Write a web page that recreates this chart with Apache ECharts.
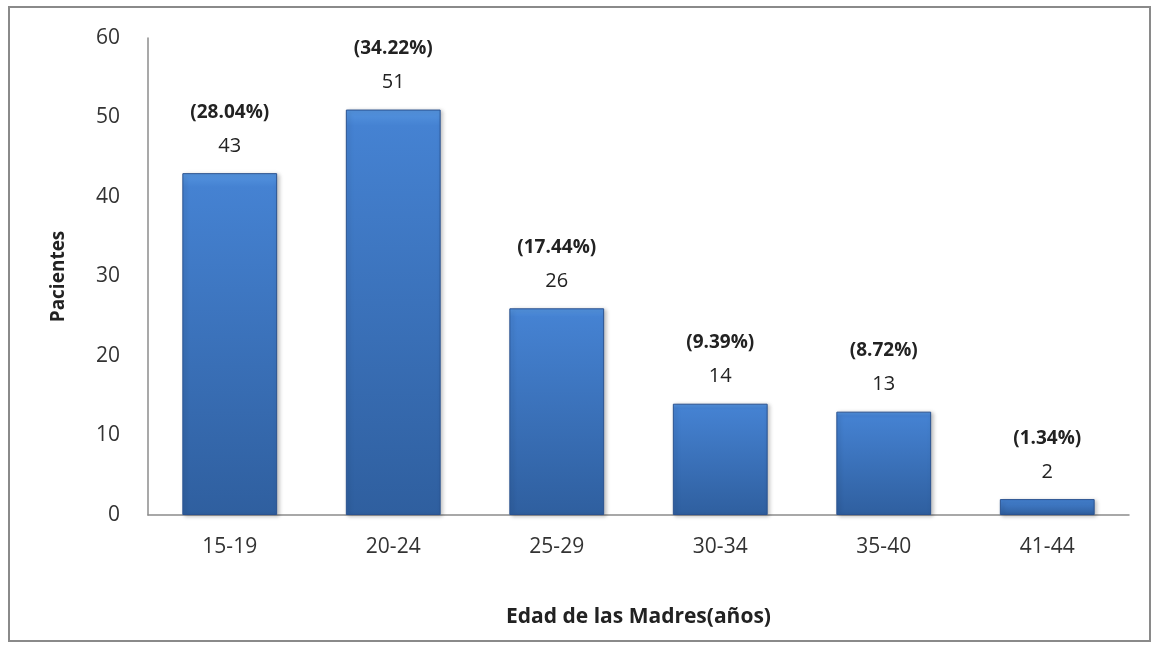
<!DOCTYPE html>
<html>
<head>
<meta charset="utf-8">
<script src="https://cdn.jsdelivr.net/npm/echarts@6/dist/echarts.min.js"></script>
<style>
  body { margin: 0; background: #fff; }
  #frame { position: absolute; left: 8px; top: 6px; width: 1139px; height: 632px; border: 2px solid #8a8a8a; }
  #chart { position: absolute; left: 0; top: 0; width: 1157px; height: 648px; }
</style>
</head>
<body>
<div id="frame"></div>
<div id="chart"></div>
<script>
// data
var categories = ['15-19', '20-24', '25-29', '30-34', '35-40', '41-44'];
var patients = [43, 51, 26, 14, 13, 2];
var percents = ['28.04%', '34.22%', '17.44%', '9.39%', '8.72%', '1.34%'];

var myChart = echarts.init(document.getElementById('chart'));
var font = '"Open Sans", sans-serif';

var option = {
  backgroundColor: 'transparent',
  grid: { left: 148, right: 28, top: 38, bottom: 133 },
  xAxis: {
    type: 'category',
    data: categories,
    name: 'Edad de las Madres(años)',
    nameLocation: 'middle',
    nameGap: 92,
    nameTextStyle: { color: '#222', fontSize: 21, fontWeight: 'bold', fontFamily: font },
    axisLine: { lineStyle: { color: '#8c8c8c', width: 1.5 } },
    axisTick: { show: false },
    axisLabel: { color: '#333', fontSize: 21, fontFamily: font, margin: 22 }
  },
  yAxis: {
    type: 'value',
    min: 0,
    max: 60,
    interval: 10,
    name: 'Pacientes',
    nameLocation: 'middle',
    nameGap: 80,
    nameRotate: 90,
    nameTextStyle: { color: '#222', fontSize: 19, fontWeight: 'bold', fontFamily: font },
    splitLine: { show: false },
    axisLine: { show: true, lineStyle: { color: '#8c8c8c', width: 1.5 } },
    axisTick: { show: false },
    axisLabel: { color: '#333', fontSize: 21, fontFamily: font, margin: 28 }
  },
  series: [{
    name: 'Pacientes',
    type: 'bar',
    barWidth: '58%',
    data: patients,
    itemStyle: {
      borderColor: '#2a5290',
      borderWidth: 1,
      color: new echarts.graphic.LinearGradient(0, 0, 0, 1, [
        { offset: 0, color: '#5595e0' },
        { offset: 0.04, color: '#4582d2' },
        { offset: 1, color: '#2f5f9f' }
      ]),
      shadowColor: 'rgba(0,0,0,0.25)',
      shadowBlur: 4,
      shadowOffsetX: 2,
      shadowOffsetY: 1
    },
    label: {
      show: true,
      position: 'top',
      distance: 14,
      formatter: function (p) {
        return '{p|(' + percents[p.dataIndex] + ')}\n{v|' + p.value + '}';
      },
      rich: {
        p: { fontSize: 19, fontWeight: 'bold', color: '#222', fontFamily: font, lineHeight: 42 },
        v: { fontSize: 20, color: '#222', fontFamily: font, lineHeight: 26 }
      }
    }
  }]
};
myChart.setOption(option);
</script>
</body>
</html>
